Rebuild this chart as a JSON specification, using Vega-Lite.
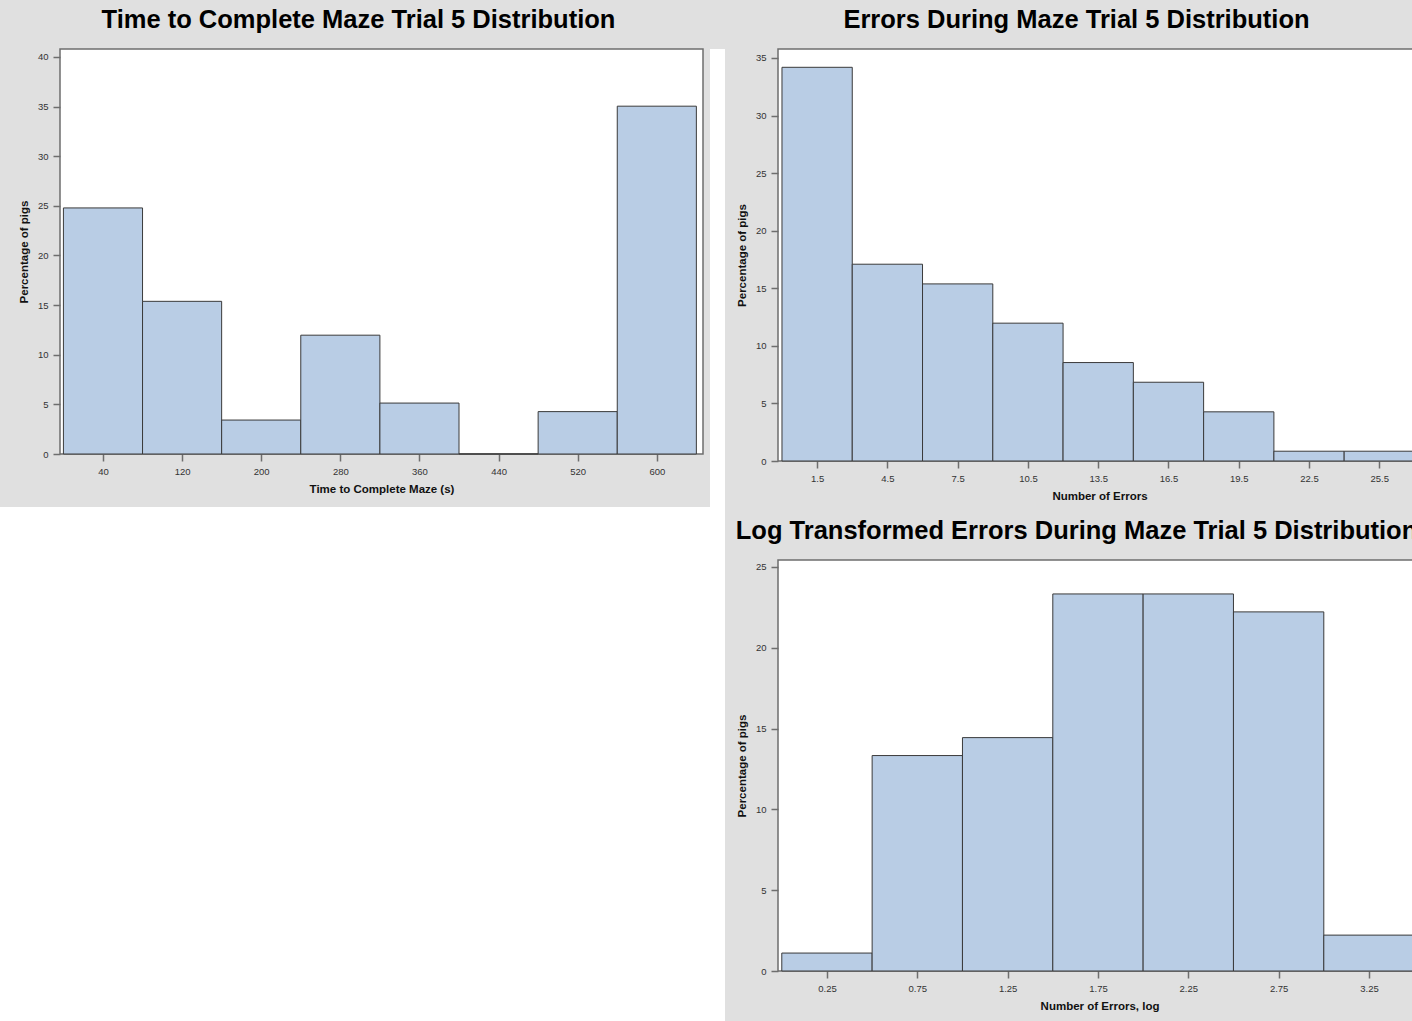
{
  "$schema": "https://vega.github.io/schema/vega-lite/v6.json",
  "background": "#e0e0e0",
  "padding": {"left": 0, "top": 6, "right": 0, "bottom": 0},
  "autosize": {"type": "pad"},
  "datasets": {
    "time": [
      {"bin_start": 0, "bin_end": 80, "pct": 24.79},
      {"bin_start": 80, "bin_end": 160, "pct": 15.38},
      {"bin_start": 160, "bin_end": 240, "pct": 3.42},
      {"bin_start": 240, "bin_end": 320, "pct": 11.97},
      {"bin_start": 320, "bin_end": 400, "pct": 5.13},
      {"bin_start": 400, "bin_end": 480, "pct": 0},
      {"bin_start": 480, "bin_end": 560, "pct": 4.27},
      {"bin_start": 560, "bin_end": 640, "pct": 35.04}
    ],
    "errors": [
      {"bin_start": 0, "bin_end": 3, "pct": 34.19},
      {"bin_start": 3, "bin_end": 6, "pct": 17.09},
      {"bin_start": 6, "bin_end": 9, "pct": 15.38},
      {"bin_start": 9, "bin_end": 12, "pct": 11.97},
      {"bin_start": 12, "bin_end": 15, "pct": 8.55},
      {"bin_start": 15, "bin_end": 18, "pct": 6.84},
      {"bin_start": 18, "bin_end": 21, "pct": 4.27},
      {"bin_start": 21, "bin_end": 24, "pct": 0.85},
      {"bin_start": 24, "bin_end": 27, "pct": 0.85}
    ],
    "logerrors": [
      {"bin_start": 0, "bin_end": 0.5, "pct": 1.11},
      {"bin_start": 0.5, "bin_end": 1.0, "pct": 13.33},
      {"bin_start": 1.0, "bin_end": 1.5, "pct": 14.44},
      {"bin_start": 1.5, "bin_end": 2.0, "pct": 23.33},
      {"bin_start": 2.0, "bin_end": 2.5, "pct": 23.33},
      {"bin_start": 2.5, "bin_end": 3.0, "pct": 22.22},
      {"bin_start": 3.0, "bin_end": 3.5, "pct": 2.22}
    ]
  },
  "spacing": 0,
  "hconcat": [
    {
      "spacing": 11,
      "vconcat": [
        {
          "spacing": 16,
          "hconcat": [
            {
              "width": 1,
              "height": 1,
              "data": {"values": []},
              "mark": {"type": "point"},
              "encoding": {},
              "view": {"fill": null, "stroke": null}
            },
            {
              "width": 643,
              "height": 405,
              "title": {"text": "Time to Complete Maze Trial 5 Distribution"},
              "data": {"name": "time"},
              "mark": {"type": "rect", "fill": "#b9cde5", "stroke": "#3a3a3a", "strokeWidth": 1},
              "encoding": {
                "x": {"field": "bin_start", "type": "quantitative", "scale": {"domain": [-3.45, 646.7], "nice": false, "zero": false},
                  "axis": {"values": [40, 120, 200, 280, 360, 440, 520, 600], "title": "Time to Complete Maze (s)"}},
                "x2": {"field": "bin_end"},
                "y": {"field": "pct", "type": "quantitative", "scale": {"domain": [0, 40.8], "nice": false},
                  "axis": {"values": [0, 5, 10, 15, 20, 25, 30, 35, 40], "title": "Percentage of pigs"}},
                "y2": {"datum": 0}
              }
            }
          ]
        },
        {
          "width": 710,
          "height": 515,
          "data": {"values": []},
          "mark": {"type": "point"},
          "encoding": {},
          "view": {"fill": "white", "stroke": null}
        }
      ]
    },
    {
      "spacing": 9,
      "hconcat": [
        {
          "width": 15,
          "height": 973,
          "data": {"values": []},
          "mark": {"type": "point"},
          "encoding": {},
          "view": {"fill": "white", "stroke": null}
        },
        {
          "spacing": 14,
          "vconcat": [
            {
              "width": 643,
              "height": 412,
              "title": {"text": "Errors During Maze Trial 5 Distribution"},
              "data": {"name": "errors"},
              "mark": {"type": "rect", "fill": "#b9cde5", "stroke": "#3a3a3a", "strokeWidth": 1},
              "encoding": {
                "x": {"field": "bin_start", "type": "quantitative", "scale": {"domain": [-0.17, 27.28], "nice": false, "zero": false},
                  "axis": {"values": [1.5, 4.5, 7.5, 10.5, 13.5, 16.5, 19.5, 22.5, 25.5], "format": ".1f", "title": "Number of Errors"}},
                "x2": {"field": "bin_end"},
                "y": {"field": "pct", "type": "quantitative", "scale": {"domain": [0, 35.78], "nice": false},
                  "axis": {"values": [0, 5, 10, 15, 20, 25, 30, 35], "title": "Percentage of pigs"}},
                "y2": {"datum": 0}
              }
            },
            {
              "width": 643,
              "height": 411,
              "title": {"text": "Log Transformed Errors During Maze Trial 5 Distribution"},
              "data": {"name": "logerrors"},
              "mark": {"type": "rect", "fill": "#b9cde5", "stroke": "#3a3a3a", "strokeWidth": 1},
              "encoding": {
                "x": {"field": "bin_start", "type": "quantitative", "scale": {"domain": [-0.021, 3.538], "nice": false, "zero": false},
                  "axis": {"values": [0.25, 0.75, 1.25, 1.75, 2.25, 2.75, 3.25], "format": ".2f", "title": "Number of Errors, log"}},
                "x2": {"field": "bin_end"},
                "y": {"field": "pct", "type": "quantitative", "scale": {"domain": [0, 25.43], "nice": false},
                  "axis": {"values": [0, 5, 10, 15, 20, 25], "title": "Percentage of pigs"}},
                "y2": {"datum": 0}
              }
            }
          ]
        }
      ]
    }
  ],
  "config": {
    "font": "Liberation Sans",
    "view": {"stroke": "#6e6e6e", "strokeWidth": 1.5, "fill": "white"},
    "axis": {
      "grid": false,
      "domain": false,
      "tickColor": "#6e6e6e",
      "tickSize": 7,
      "tickWidth": 1.5,
      "labelFont": "Liberation Sans",
      "labelFontSize": 9.5,
      "labelColor": "#333333",
      "labelPadding": 5,
      "labelOverlap": false,
      "labelFlush": false,
      "labelBound": false,
      "titleFont": "Liberation Sans",
      "titleFontSize": 11.5,
      "titleFontWeight": "bold",
      "titleColor": "#111111",
      "titlePadding": 8
    },
    "title": {
      "font": "Liberation Sans",
      "fontSize": 25.5,
      "fontWeight": "bold",
      "color": "#000000",
      "anchor": "middle",
      "frame": "group",
      "dx": -23,
      "baseline": "alphabetic",
      "offset": 16
    }
  }
}
